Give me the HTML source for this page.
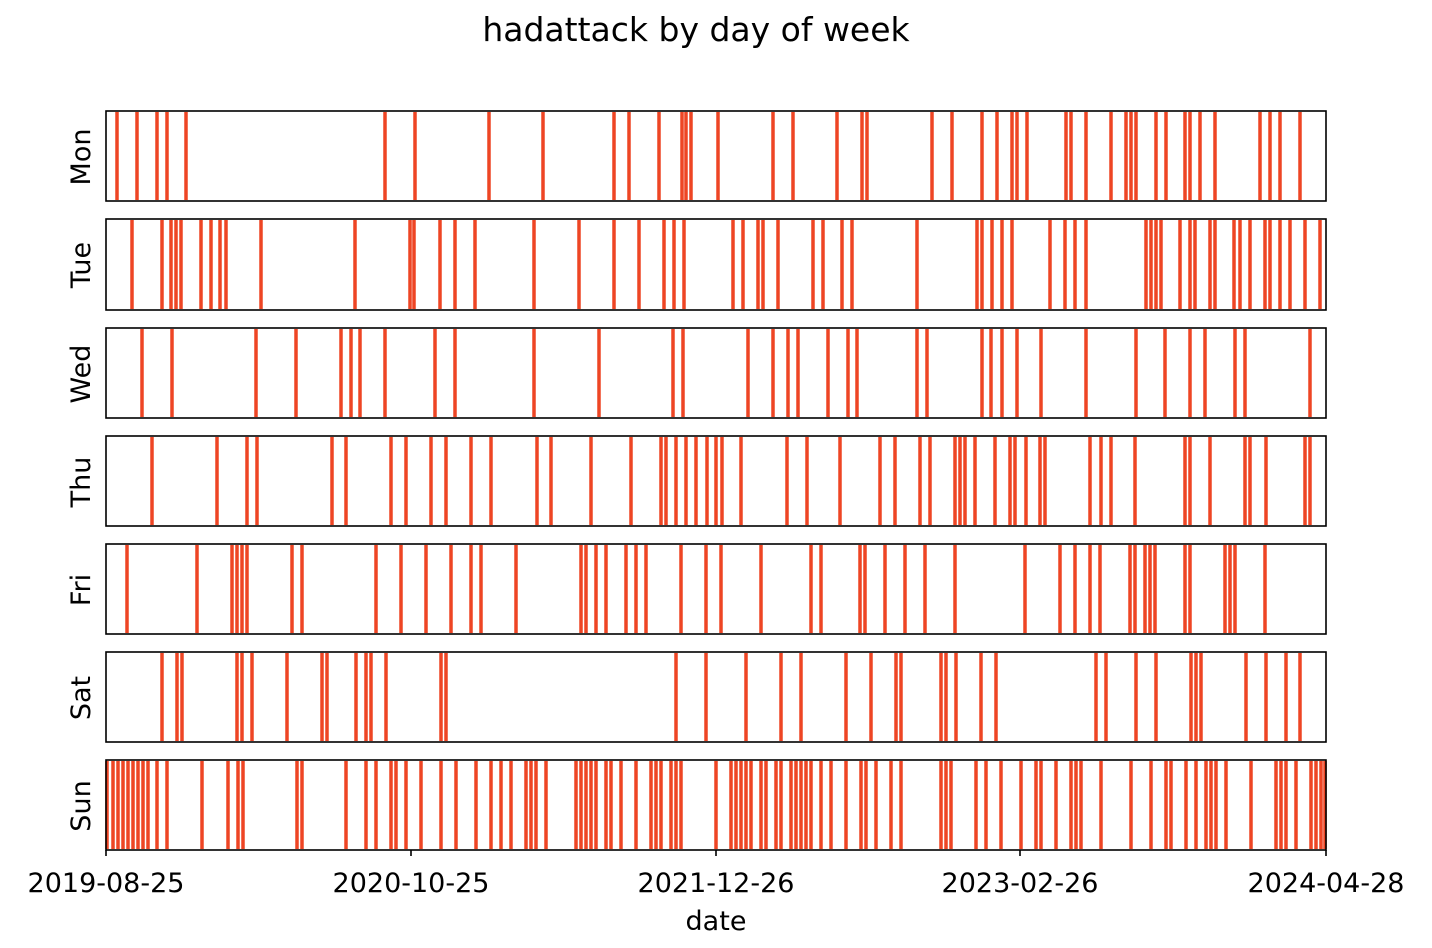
<!DOCTYPE html>
<html><head><meta charset="utf-8"><style>
body{margin:0;background:#fff;}
svg{display:block;font-family:"DejaVu Sans","Liberation Sans",sans-serif;}
</style></head><body>
<svg id="s" width="1432" height="948" xmlns="http://www.w3.org/2000/svg">
<rect width="1432" height="948" fill="#fff"/>
<text x="696" y="41" font-size="33" text-anchor="middle">hadattack by day of week</text>
<g id="bars"></g>
<g fill="none" stroke="#000" stroke-width="1.6">
<rect x="106" y="111" width="1220" height="90"/>
<rect x="106" y="219" width="1220" height="91"/>
<rect x="106" y="328" width="1220" height="90"/>
<rect x="106" y="436" width="1220" height="90"/>
<rect x="106" y="544" width="1220" height="90"/>
<rect x="106" y="652" width="1220" height="90"/>
<rect x="106" y="760" width="1220" height="90"/>
<path d="M106 850v6M411 850v6M716 850v6M1020 850v6M1326 850v6"/>
</g>
<g font-size="27" text-anchor="middle">
<text x="106" y="892">2019-08-25</text>
<text x="411" y="892">2020-10-25</text>
<text x="716" y="892">2021-12-26</text>
<text x="1020" y="892">2023-02-26</text>
<text x="1326" y="892">2024-04-28</text>
<text x="716" y="930">date</text>
<text transform="translate(90,157) rotate(-90)">Mon</text>
<text transform="translate(90,265) rotate(-90)">Tue</text>
<text transform="translate(90,374) rotate(-90)">Wed</text>
<text transform="translate(90,482) rotate(-90)">Thu</text>
<text transform="translate(90,590) rotate(-90)">Fri</text>
<text transform="translate(90,698) rotate(-90)">Sat</text>
<text transform="translate(90,806) rotate(-90)">Sun</text>
</g>
</svg>
<script>
var D=[
[111,[117,137,157,167,186,385,415,489,543,614,629,659,682,686,691,718,773,793,837,862,867,932,952,982,997,1012,1017,1027,1066,1071,1086,1111,1126,1131,1136,1156,1166,1185,1190,1200,1215,1260,1270,1280,1300]],
[219,[132,162,171,176,181,201,211,220,226,261,355,410,414,440,455,475,534,579,614,639,664,674,684,733,743,758,763,778,813,823,842,852,917,977,982,992,1002,1012,1050,1065,1075,1086,1146,1151,1156,1161,1180,1190,1195,1210,1215,1234,1240,1250,1265,1270,1280,1290,1305,1320]],
[328,[142,172,256,296,341,351,360,385,435,455,534,599,673,683,748,773,788,798,828,848,857,917,927,982,991,1002,1017,1041,1086,1136,1165,1190,1205,1235,1245,1310]],
[436,[152,217,247,257,332,346,391,406,431,446,471,491,537,551,591,631,661,666,676,686,696,707,716,722,741,787,807,840,880,895,920,930,955,960,965,975,995,1010,1015,1026,1040,1045,1090,1101,1111,1135,1185,1190,1210,1245,1250,1266,1305,1310]],
[544,[127,197,232,237,242,247,292,302,376,401,426,451,471,481,516,581,586,596,606,626,636,646,681,706,721,761,811,821,860,865,885,905,925,955,1025,1060,1075,1090,1100,1130,1135,1145,1150,1155,1185,1190,1225,1230,1235,1265]],
[652,[162,177,182,237,242,252,287,322,327,356,366,371,386,441,446,676,706,746,781,801,846,871,896,901,941,946,956,981,996,1096,1106,1136,1156,1191,1196,1201,1246,1266,1286,1300]],
[760,[107,113,118,123,128,133,138,143,148,157,167,202,228,238,243,297,302,346,366,376,391,396,406,421,441,456,476,491,501,511,526,531,536,546,576,581,586,591,596,606,611,621,636,651,656,661,671,676,681,716,731,736,741,746,751,761,766,776,781,791,796,801,806,811,821,831,846,861,866,876,891,901,941,946,951,976,986,1001,1021,1036,1041,1056,1071,1076,1081,1101,1131,1151,1166,1171,1186,1196,1206,1211,1216,1226,1251,1276,1281,1286,1296,1311,1316,1321,1325]]];
var h='';
D.forEach(function(p){var y=p[0]+1,hh=(p[0]==219?89:88);p[1].forEach(function(x){h+='<rect x="'+(x-1.75)+'" y="'+y+'" width="3.5" height="'+hh+'" fill="#ee4524"/>';});});
document.getElementById('bars').innerHTML=h;
</script>
</body></html>
